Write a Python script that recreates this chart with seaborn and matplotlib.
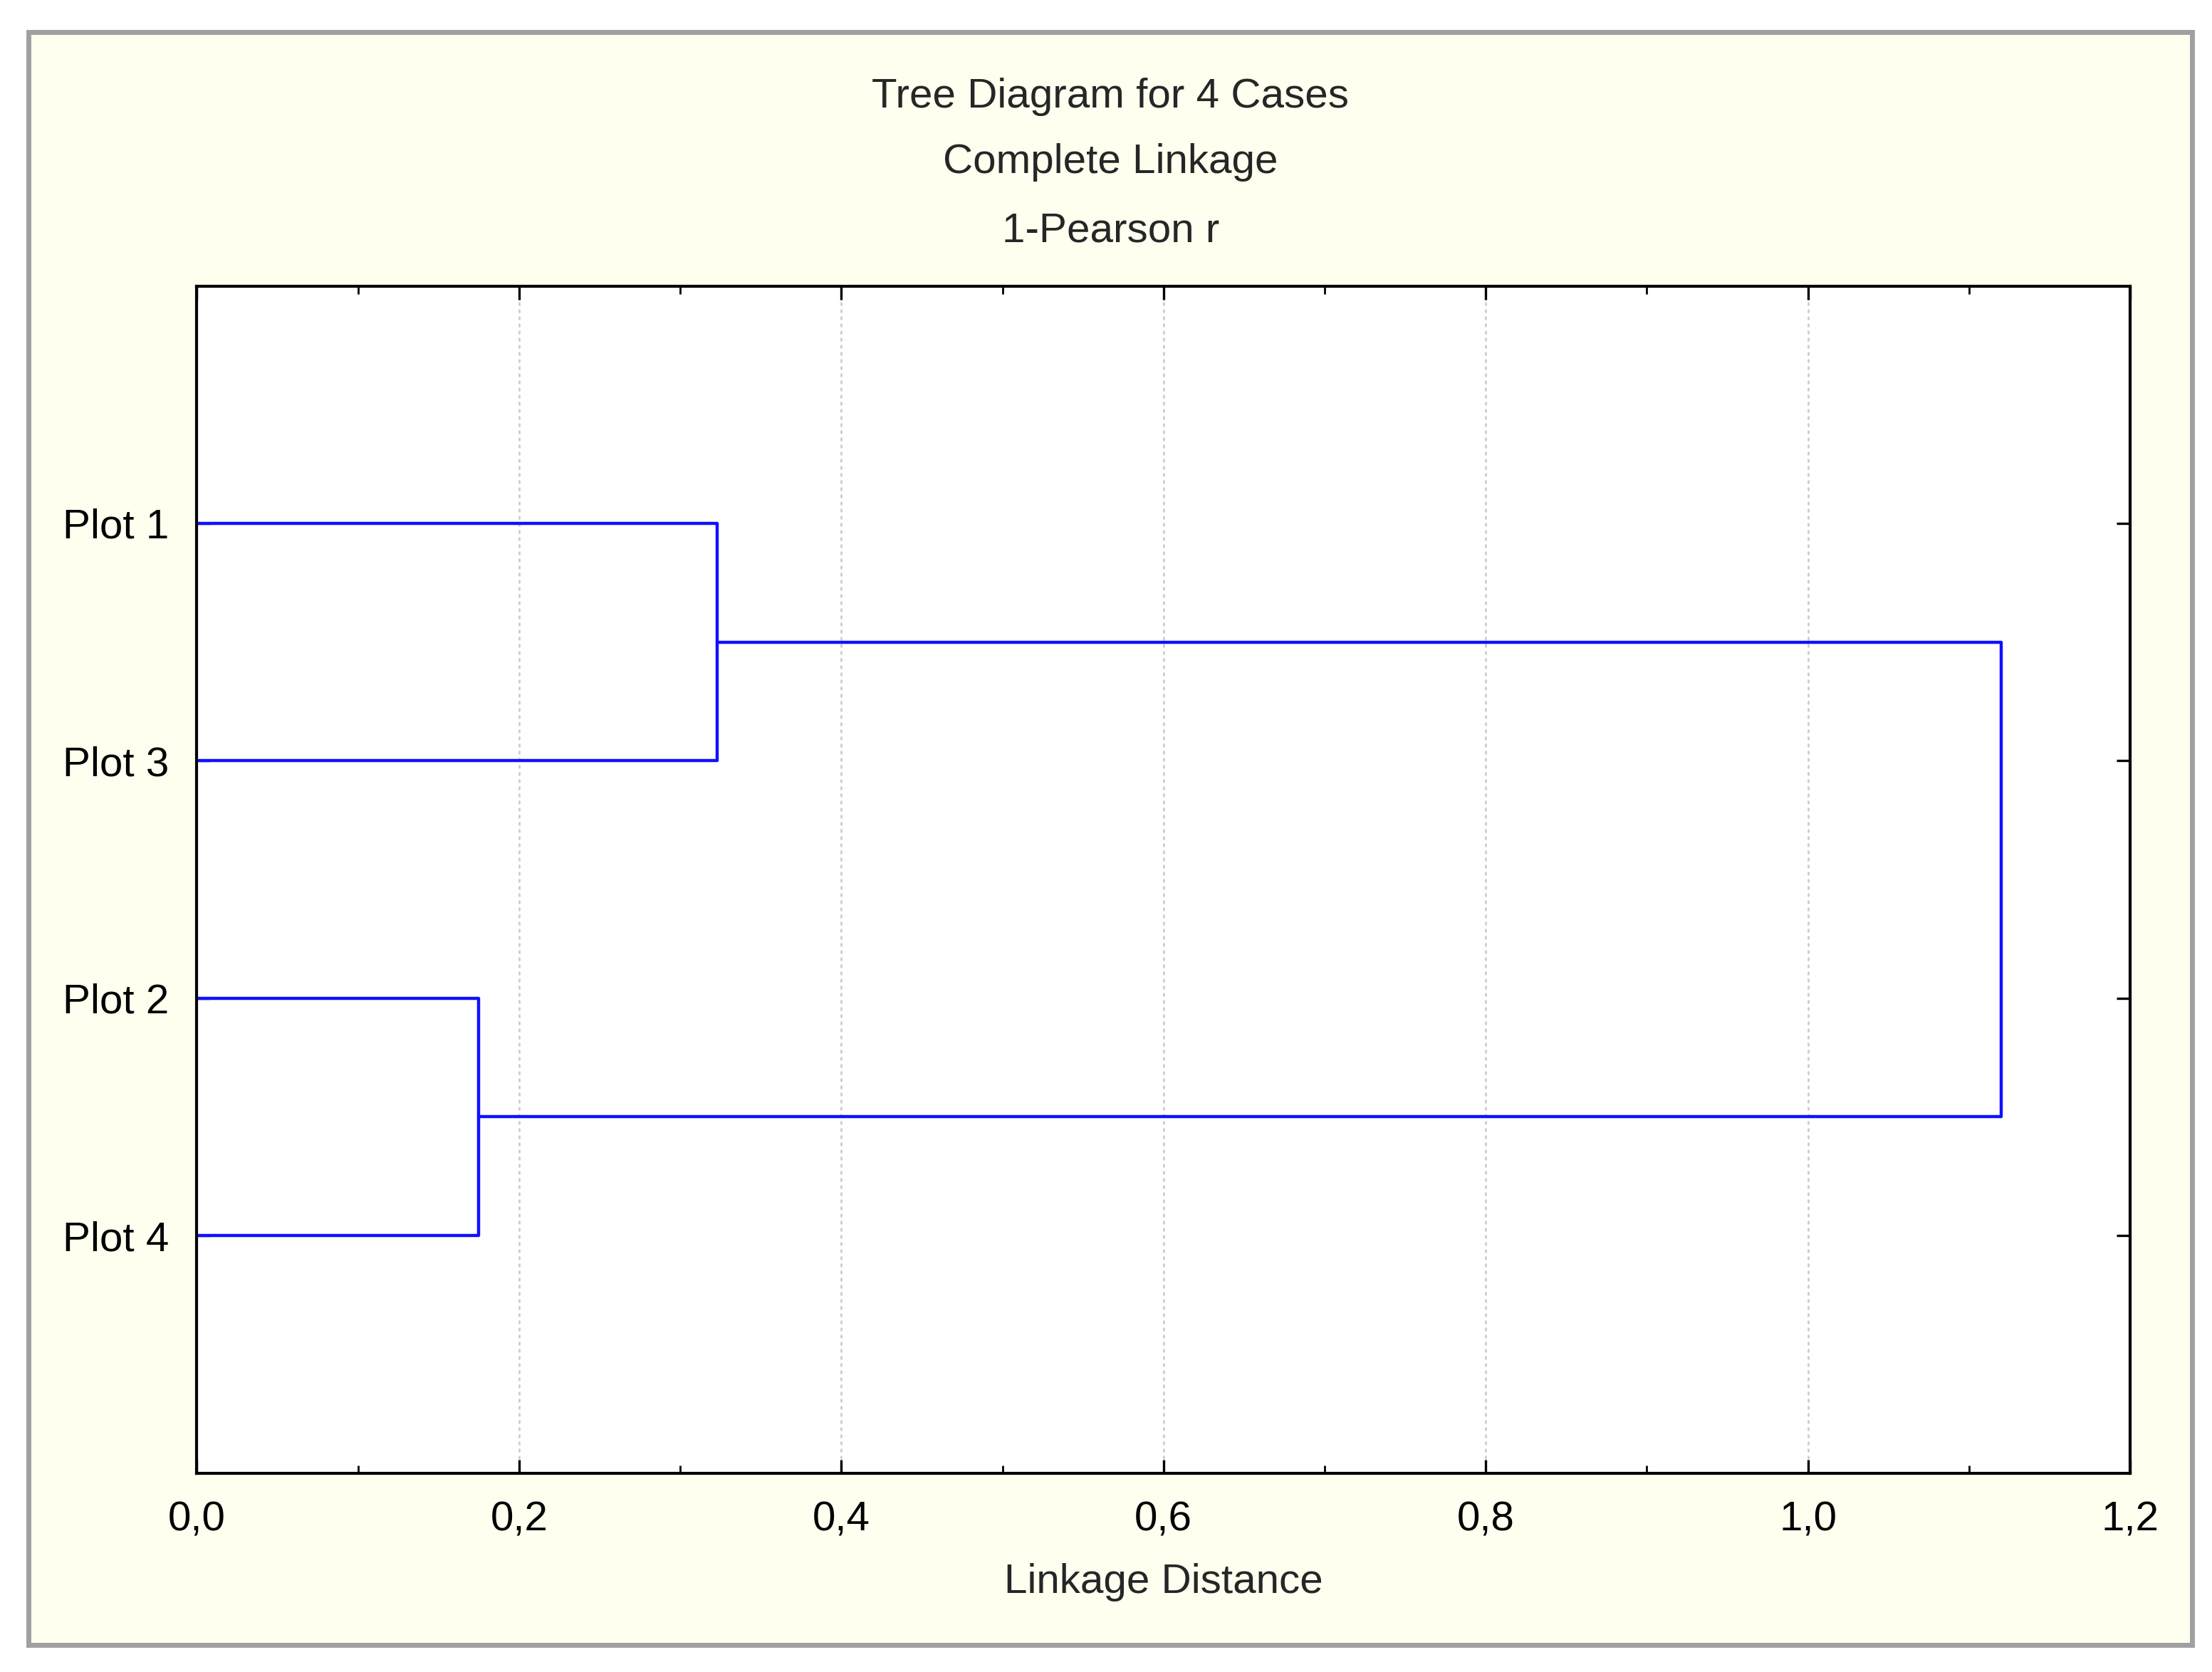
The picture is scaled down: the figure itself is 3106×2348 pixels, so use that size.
import matplotlib.pyplot as plt
import matplotlib.patches as mpatches
from matplotlib.ticker import MultipleLocator, FuncFormatter
import pandas as pd
import seaborn as sns

# leaf order top to bottom and merge distances
leaves = ["Plot 1", "Plot 3", "Plot 2", "Plot 4"]
merge_13 = 0.323
merge_24 = 0.175
merge_root = 1.12

sns.set_theme(style="white")
plt.rcParams["font.family"] = ["Liberation Sans", "DejaVu Sans"]

pos = {name: i + 1 for i, name in enumerate(leaves)}
c13 = (pos["Plot 1"] + pos["Plot 3"]) / 2
c24 = (pos["Plot 2"] + pos["Plot 4"]) / 2

segs = [
    ([0, merge_13, merge_13, 0], [pos["Plot 1"], pos["Plot 1"], pos["Plot 3"], pos["Plot 3"]]),
    ([0, merge_24, merge_24, 0], [pos["Plot 2"], pos["Plot 2"], pos["Plot 4"], pos["Plot 4"]]),
    ([merge_13, merge_root, merge_root, merge_24], [c13, c13, c24, c24]),
]
rows = []
for k, (xs, ys) in enumerate(segs):
    for j, (x, y) in enumerate(zip(xs, ys)):
        rows.append({"seg": k, "order": j, "x": x, "y": y})
df = pd.DataFrame(rows)

fig = plt.figure(figsize=(15.53, 11.74), dpi=200, facecolor="white")
panel = mpatches.Rectangle((0.013, 0.016), 0.978, 0.965, transform=fig.transFigure,
                           facecolor="#fffff0", edgecolor="#a0a0a0", linewidth=2.5, zorder=-10)
fig.add_artist(panel)
ax = fig.add_axes([0.089, 0.119, 0.874, 0.71])
ax.set_zorder(5)
ax.set_facecolor("white")

sns.lineplot(data=df, x="x", y="y", units="seg", estimator=None, sort=False,
             color="#1010ff", linewidth=1.6, ax=ax)

ax.set_xlim(0, 1.2)
ax.set_ylim(5, 0)
ax.xaxis.set_major_locator(MultipleLocator(0.2))
ax.xaxis.set_minor_locator(MultipleLocator(0.1))
ax.xaxis.set_major_formatter(FuncFormatter(lambda v, p: f"{v:.1f}".replace(".", ",")))
ax.set_yticks(list(pos.values()))
ax.set_yticklabels(leaves)
ax.grid(axis="x", which="major", color="#c8c8c8", linestyle=(0, (2, 2)), linewidth=0.9)
ax.tick_params(which="both", direction="in", top=True, right=True, bottom=True, left=True,
               labelsize=21, colors="black")
ax.tick_params(which="major", length=7, width=1.2, pad=14)
ax.tick_params(which="minor", length=4, width=1.0)
for s in ax.spines.values():
    s.set_color("black")
    s.set_linewidth(1.5)
ax.set_xlabel("Linkage Distance", fontsize=21, labelpad=12)
ax.set_ylabel("")
fig.text(0.502, 0.942, "Tree Diagram for 4 Cases", ha="center", va="center", fontsize=21)
fig.text(0.502, 0.903, "Complete Linkage", ha="center", va="center", fontsize=21)
fig.text(0.502, 0.862, "1-Pearson r", ha="center", va="center", fontsize=21)

fig.savefig("out.png", dpi=200, facecolor="white")
